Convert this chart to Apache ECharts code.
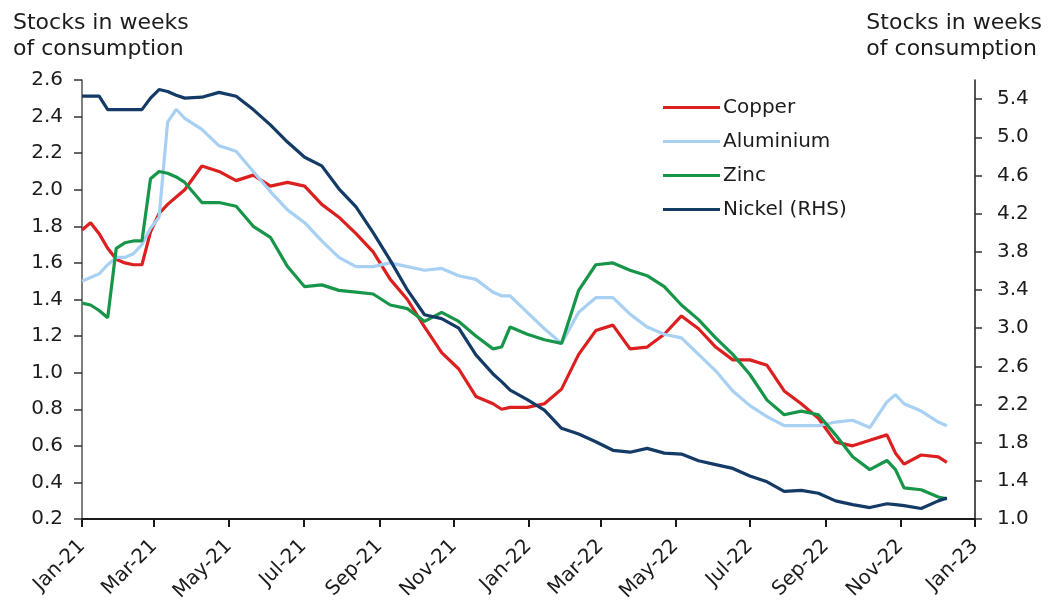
<!DOCTYPE html>
<html>
<head>
<meta charset="utf-8">
<script src="https://cdn.jsdelivr.net/npm/echarts@6/dist/echarts.min.js"></script>
<style>
  html, body { margin: 0; padding: 0; background: #fff; }
  #chart { width: 1050px; height: 609px; }
</style>
</head>
<body>
<div id="chart"></div>
<script>
// Weekly / fortnightly observation dates
const dates = [
  '2021-01-01','2021-01-08','2021-01-15','2021-01-22','2021-01-29','2021-02-05','2021-02-12',
  '2021-02-19','2021-02-26','2021-03-05','2021-03-12','2021-03-19','2021-03-26','2021-04-09',
  '2021-04-23','2021-05-07','2021-05-21','2021-06-04','2021-06-18','2021-07-02','2021-07-16',
  '2021-07-30','2021-08-13','2021-08-27','2021-09-10','2021-09-24','2021-10-08','2021-10-22',
  '2021-11-05','2021-11-19','2021-12-03','2021-12-10','2021-12-17','2021-12-31','2022-01-14',
  '2022-01-28','2022-02-11','2022-02-25','2022-03-11','2022-03-25','2022-04-08','2022-04-22',
  '2022-05-06','2022-05-20','2022-06-03','2022-06-17','2022-07-01','2022-07-15','2022-07-29',
  '2022-08-12','2022-08-26','2022-09-09','2022-09-23','2022-10-07','2022-10-21','2022-10-28',
  '2022-11-04','2022-11-18','2022-12-02','2022-12-09'
];

// Stocks in weeks of consumption (left axis)
const copper = [
  1.78,1.82,1.76,1.68,1.62,1.60,1.59,1.59,1.77,1.87,1.92,1.96,2.00,2.13,
  2.10,2.05,2.08,2.02,2.04,2.02,1.92,1.85,1.76,1.66,1.51,1.40,1.25,1.11,
  1.02,0.87,0.83,0.80,0.81,0.81,0.83,0.91,1.10,1.23,1.26,1.13,1.14,1.21,
  1.31,1.24,1.14,1.07,1.07,1.04,0.90,0.83,0.75,0.62,0.60,0.63,0.66,0.56,
  0.50,0.55,0.54,0.51
];
const aluminium = [
  1.50,1.52,1.54,1.59,1.63,1.63,1.65,1.70,1.79,1.85,2.37,2.44,2.39,2.33,
  2.24,2.21,2.10,1.99,1.89,1.82,1.72,1.63,1.58,1.58,1.60,1.58,1.56,1.57,
  1.53,1.51,1.44,1.42,1.42,1.33,1.24,1.16,1.33,1.41,1.41,1.32,1.25,1.21,
  1.19,1.10,1.01,0.90,0.82,0.76,0.71,0.71,0.71,0.73,0.74,0.70,0.84,0.88,
  0.83,0.79,0.73,0.71
];
const zinc = [
  1.38,1.37,1.34,1.30,1.68,1.71,1.72,1.72,2.06,2.10,2.09,2.07,2.04,1.93,
  1.93,1.91,1.80,1.74,1.58,1.47,1.48,1.45,1.44,1.43,1.37,1.35,1.28,1.33,
  1.28,1.20,1.13,1.14,1.25,1.21,1.18,1.16,1.45,1.59,1.60,1.56,1.53,1.47,
  1.37,1.29,1.19,1.10,0.99,0.85,0.77,0.79,0.77,0.66,0.54,0.47,0.52,0.47,
  0.37,0.36,0.32,0.31
];
// Nickel is read against the right-hand axis
const nickel = [
  5.43,5.43,5.43,5.29,5.29,5.29,5.29,5.29,5.41,5.50,5.48,5.44,5.41,5.42,
  5.47,5.43,5.29,5.13,4.95,4.79,4.70,4.46,4.27,4.00,3.71,3.40,3.14,3.10,
  3.00,2.72,2.52,2.44,2.35,2.25,2.14,1.95,1.89,1.81,1.72,1.70,1.74,1.69,
  1.68,1.61,1.57,1.53,1.45,1.39,1.29,1.30,1.27,1.19,1.15,1.12,1.16,1.15,
  1.14,1.11,1.19,1.22
];

// Bimonthly date ticks and their labels
const tickDates = [
  '2021-01-01','2021-03-01','2021-05-01','2021-07-01','2021-09-01','2021-11-01',
  '2022-01-01','2022-03-01','2022-05-01','2022-07-01','2022-09-01','2022-11-01','2023-01-01'
];
const tickLabels = [
  'Jan-21','Mar-21','May-21','Jul-21','Sep-21','Nov-21',
  'Jan-22','Mar-22','May-22','Jul-22','Sep-22','Nov-22','Jan-23'
];
const rightTicks = [1.0, 1.4, 1.8, 2.2, 2.6, 3.0, 3.4, 3.8, 4.2, 4.6, 5.0, 5.4];

const FONT = 'DejaVu Sans';
const TEXT = '#1c1c1c';
const DAY = 86400000;

// dates become day counts from the start of 2021 (UTC), so the axis is linear in time
const T0 = Date.UTC(2021, 0, 1);
const toDay = s => {
  const p = s.split('-').map(Number);
  return Math.round((Date.UTC(p[0], p[1] - 1, p[2]) - T0) / DAY);
};
const tickDays = tickDates.map(toDay);
const pairs = vals => dates.map((d, i) => [toDay(d), vals[i]]);

const chart = echarts.init(document.getElementById('chart'), null, { renderer: 'canvas' });

const lineSeries = (name, vals, color, yIdx) => ({
  name: name,
  type: 'line',
  yAxisIndex: yIdx,
  data: pairs(vals),
  showSymbol: false,
  symbol: 'none',
  smooth: false,
  lineStyle: { color: color, width: 3.2 },
  itemStyle: { color: color },
  emphasis: { disabled: true },
  animation: false
});

const titleText = 'Stocks in weeks\nof consumption';
const titleStyle = { fontFamily: FONT, fontSize: 22, fontWeight: 'normal', color: TEXT, lineHeight: 26 };

chart.setOption({
  animation: false,
  textStyle: { fontFamily: FONT },
  title: [
    { text: titleText, left: 8, top: 5, textStyle: titleStyle },
    { text: titleText, right: 3, top: 5, textStyle: titleStyle }
  ],
  legend: {
    orient: 'vertical',
    left: 658, top: 91,
    itemWidth: 57, itemHeight: 3,
    itemGap: 11,
    icon: 'rect',
    selectedMode: false,
    textStyle: { fontFamily: FONT, fontSize: 20, color: TEXT, lineHeight: 23, padding: [0, 0, 0, -2] },
    data: ['Copper', 'Aluminium', 'Zinc', 'Nickel (RHS)']
  },
  grid: { left: 82, right: 75, top: 80, bottom: 90, containLabel: false },
  xAxis: {
    type: 'value',
    min: toDay('2021-01-01'),
    max: toDay('2023-01-01'),
    axisLine: { show: true, onZero: false, lineStyle: { color: '#1a1a1a', width: 2 } },
    axisTick: { show: true, inside: false, length: 8, lineStyle: { color: '#1a1a1a', width: 2 }, customValues: tickDays },
    splitLine: { show: false },
    axisLabel: {
      rotate: 45,
      margin: 24,
      fontFamily: FONT, fontSize: 20, color: TEXT,
      customValues: tickDays,
      formatter: v => {
        const i = tickDays.indexOf(Math.round(v));
        return i >= 0 ? tickLabels[i] : '';
      },
      hideOverlap: false
    }
  },
  yAxis: [
    {
      type: 'value',
      position: 'left',
      min: 0.2, max: 2.6, interval: 0.2,
      axisLine: { show: true, onZero: false, lineStyle: { color: '#555', width: 1.5 } },
      axisTick: { show: true, inside: false, length: 8, lineStyle: { color: '#333', width: 1.5 } },
      splitLine: { show: false },
      axisLabel: {
        margin: 19,
        fontFamily: FONT, fontSize: 20, color: TEXT,
        formatter: v => v.toFixed(1)
      }
    },
    {
      type: 'value',
      position: 'right',
      min: 1.0, max: 5.6,
      axisLine: { show: true, onZero: false, lineStyle: { color: '#1a1a1a', width: 1.5 } },
      axisTick: { show: true, inside: false, length: 7, lineStyle: { color: '#333', width: 1.5 }, customValues: rightTicks },
      splitLine: { show: false },
      axisLabel: {
        margin: 22,
        fontFamily: FONT, fontSize: 20, color: TEXT,
        customValues: rightTicks,
        formatter: v => v.toFixed(1)
      }
    }
  ],
  series: [
    lineSeries('Copper', copper, '#dc1f1f', 0),
    lineSeries('Aluminium', aluminium, '#a8d0f3', 0),
    lineSeries('Zinc', zinc, '#17964a', 0),
    lineSeries('Nickel (RHS)', nickel, '#143a66', 1)
  ]
});
</script>
</body>
</html>
